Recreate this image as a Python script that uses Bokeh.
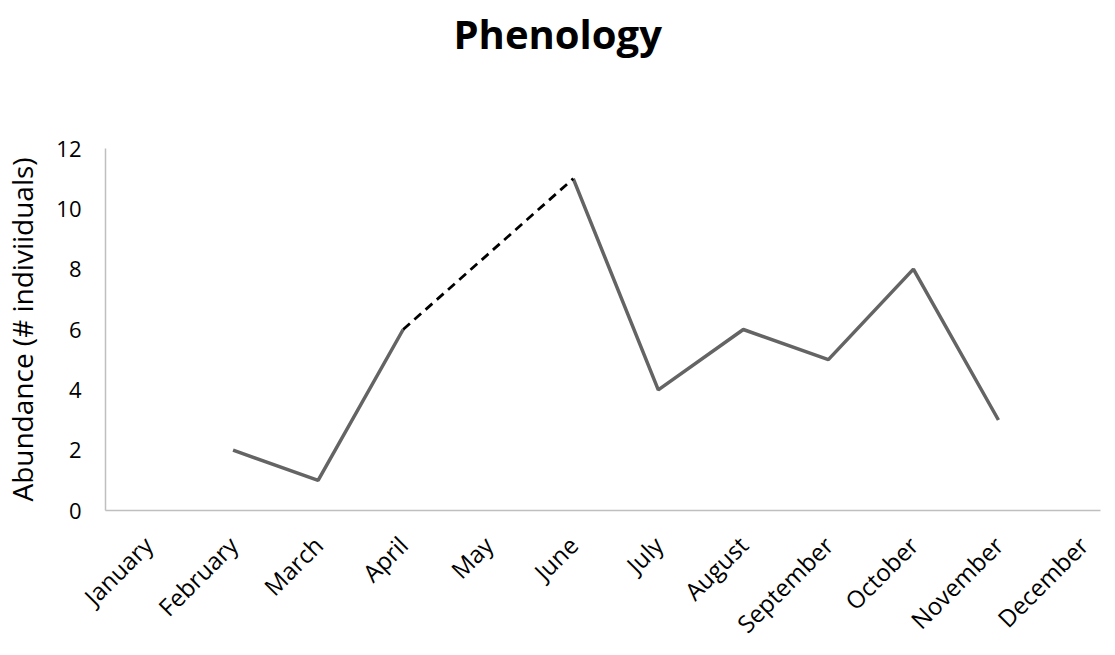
import numpy as np
from bokeh.plotting import figure
from bokeh.models import Range1d, FixedTicker, Title
from bokeh.embed import file_html
from bokeh.resources import INLINE

months = ["January", "February", "March", "April", "May", "June", "July",
          "August", "September", "October", "November", "December"]
# observed abundance (None = no observation)
abundance = [None, 2, 1, 6, None, 11, 4, 6, 5, 8, 3, None]
# dashed bridge over the missing month (April -> June)
gap_months = ["April", "June"]
gap_values = [6, 11]

idx = {m: i for i, m in enumerate(months)}

p = figure(width=1110, height=654, output_backend="svg", toolbar_location=None,
           x_range=Range1d(-0.5, 11.2), y_range=Range1d(0, 12),
           min_border_left=105, min_border_right=10, min_border_top=148,
           min_border_bottom=144)
p.title = None
p.outline_line_color = None
p.grid.grid_line_color = None

seg_x, seg_y = [], []
cur_x, cur_y = [], []
for i, v in enumerate(abundance):
    if v is None:
        if cur_x:
            seg_x.append(cur_x); seg_y.append(cur_y)
        cur_x, cur_y = [], []
    else:
        cur_x.append(i); cur_y.append(v)
if cur_x:
    seg_x.append(cur_x); seg_y.append(cur_y)

p.multi_line(xs=seg_x, ys=seg_y, line_color="#646464", line_width=3.5)
p.line([idx[m] for m in gap_months], gap_values, line_color="black",
       line_width=2.8, line_dash="9 6")

# spacer between frame and title (nearest the frame)
spacer = Title(text=" ", text_font_size="10px", standoff=75)
p.add_layout(spacer, "above")
main_title = Title(text="Phenology", text_font="Open Sans", text_font_style="bold",
                   text_font_size="40px", text_color="black", align="left",
                   offset=348, standoff=0)
p.add_layout(main_title, "above")

for ax in [p.xaxis[0], p.yaxis[0]]:
    ax.axis_line_color = "#BFBFBF"
    ax.axis_line_width = 1.5
    ax.major_tick_line_color = None
    ax.minor_tick_line_color = None
    ax.major_tick_out = 0
    ax.major_tick_in = 0
    ax.major_label_text_font = "Open Sans"
    ax.major_label_text_color = "black"

p.yaxis.major_label_text_font_size = "22px"
p.xaxis.major_label_text_font_size = "24px"

p.yaxis.ticker = FixedTicker(ticks=[0, 2, 4, 6, 8, 10, 12])
p.yaxis.major_label_standoff = 24
p.yaxis.axis_label = "Abundance (# indiviiduals)"
p.yaxis.axis_label_text_font = "Open Sans"
p.yaxis.axis_label_text_font_size = "28px"
p.yaxis.axis_label_text_font_style = "normal"
p.yaxis.axis_label_text_color = "black"
p.yaxis.axis_label_standoff = 12

p.xaxis.ticker = FixedTicker(ticks=list(range(len(months))))
p.xaxis.major_label_overrides = {i: m for i, m in enumerate(months)}
p.xaxis.major_label_orientation = np.pi / 4
p.xaxis.major_label_standoff = 30

open("out.html", "w").write(file_html(p, INLINE))
